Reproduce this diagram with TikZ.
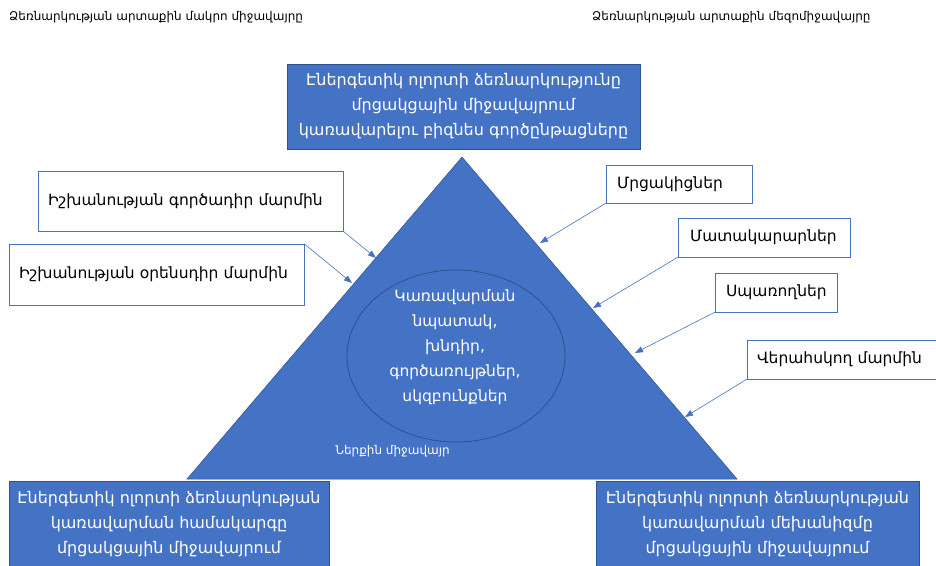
\documentclass[tikz,border=0pt]{standalone}
\usepackage{fontspec}
\setmainfont{DejaVu Sans}
\usetikzlibrary{shapes.geometric, arrows.meta}
\definecolor{triblue}{HTML}{4472C4}
\definecolor{edgeblue}{HTML}{2F528F}

\begin{document}
\begin{tikzpicture}[x=1pt,y=-1pt,
  bluebox/.style={draw=edgeblue,fill=triblue,text=white,align=center,inner sep=0pt,font=\fontsize{16}{25}\selectfont},
  whitebox/.style={draw=triblue,fill=white,align=left,inner xsep=10pt,inner ysep=0pt,font=\fontsize{15.5}{18}\selectfont},
  pointer/.style={draw=triblue,line width=0.6pt,-{Triangle[length=8pt,width=6pt]}},
  header/.style={anchor=west,inner sep=0pt,font=\fontsize{12}{14}\selectfont}]
  \useasboundingbox (0,0) rectangle (936,565);
  % headers
  \node[header] (macro) at (9,17) {Ձեռնարկության արտաքին մակրո միջավայրը};
  \node[header] (meso) at (592,17) {Ձեռնարկության արտաքին մեզոմիջավայրը};
  % pyramid
  \coordinate (apex) at (462,157);
  \coordinate (baseL) at (187,479);
  \coordinate (baseR) at (737,479);
  \filldraw[fill=triblue,draw=edgeblue,line width=0.5pt] (apex) -- (baseR) -- (baseL) -- cycle;
  \node[draw=edgeblue,line width=0.8pt,shape=ellipse,minimum width=218pt,minimum height=172pt] (core) at (456,356) {};
  \node[text=white,align=center,font=\fontsize{15.5}{25}\selectfont] (goals) at (455,347.5)
    {Կառավարման\\նպատակ,\\խնդիր,\\գործառույթներ,\\սկզբունքներ};
  \node[text=white,font=\fontsize{12}{14}\selectfont] (inner) at (392.5,451) {Ներքին միջավայր};
  % blue boxes
  \node[bluebox,minimum width=353pt,minimum height=85pt] (top) at (463.5,106.5)
    {Էներգետիկ ոլորտի  ձեռնարկությունը\\մրցակցային միջավայրում\\կառավարելու բիզնես գործընթացները};
  \node[bluebox,minimum width=320pt,minimum height=86pt] (system) at (169,524)
    {Էներգետիկ ոլորտի ձեռնարկության\\կառավարման համակարգը\\մրցակցային միջավայրում};
  \node[bluebox,minimum width=323pt,minimum height=86pt] (mechanism) at (757.5,524)
    {Էներգետիկ ոլորտի  ձեռնարկության\\կառավարման մեխանիզմը\\մրցակցային միջավայրում};
  % white boxes
  \node[whitebox,text width=285pt,minimum height=60pt] (exec) at (190.5,201) {Իշխանության գործադիր մարմին};
  \node[whitebox,text width=275pt,minimum height=61pt] (legis) at (156.5,274.5) {Իշխանության օրենսդիր մարմին};
  \node[whitebox,text width=124pt,minimum height=38pt,inner xsep=11pt] (rivals) at (679,184) {Մրցակիցներ};
  \node[whitebox,text width=148pt,minimum height=39pt,inner xsep=12pt] (suppliers) at (764,237.5) {Մատակարարներ};
  \node[whitebox,text width=100pt,minimum height=39pt,inner xsep=11pt] (buyers) at (776,292.5) {Սպառողներ};
  \node[whitebox,text width=173pt,minimum height=39pt] (control) at (843.5,359.5) {Վերահսկող մարմին};
  % arrows to the pyramid
  \coordinate (hitA) at (376,258);
  \coordinate (hitB) at (352,283);
  \coordinate (hitC) at (540,243);
  \coordinate (hitD) at (593,308);
  \coordinate (hitE) at (635,353);
  \coordinate (hitF) at (685,417);
  \draw[pointer] (exec.south east) -- (hitA);
  \draw[pointer] (legis.north east) -- (hitB);
  \draw[pointer] (rivals.south west) -- (hitC);
  \draw[pointer] (suppliers.south west) -- (hitD);
  \draw[pointer] (buyers.south west) -- (hitE);
  \draw[pointer] (control.south west) -- (hitF);
\end{tikzpicture}
\end{document}
